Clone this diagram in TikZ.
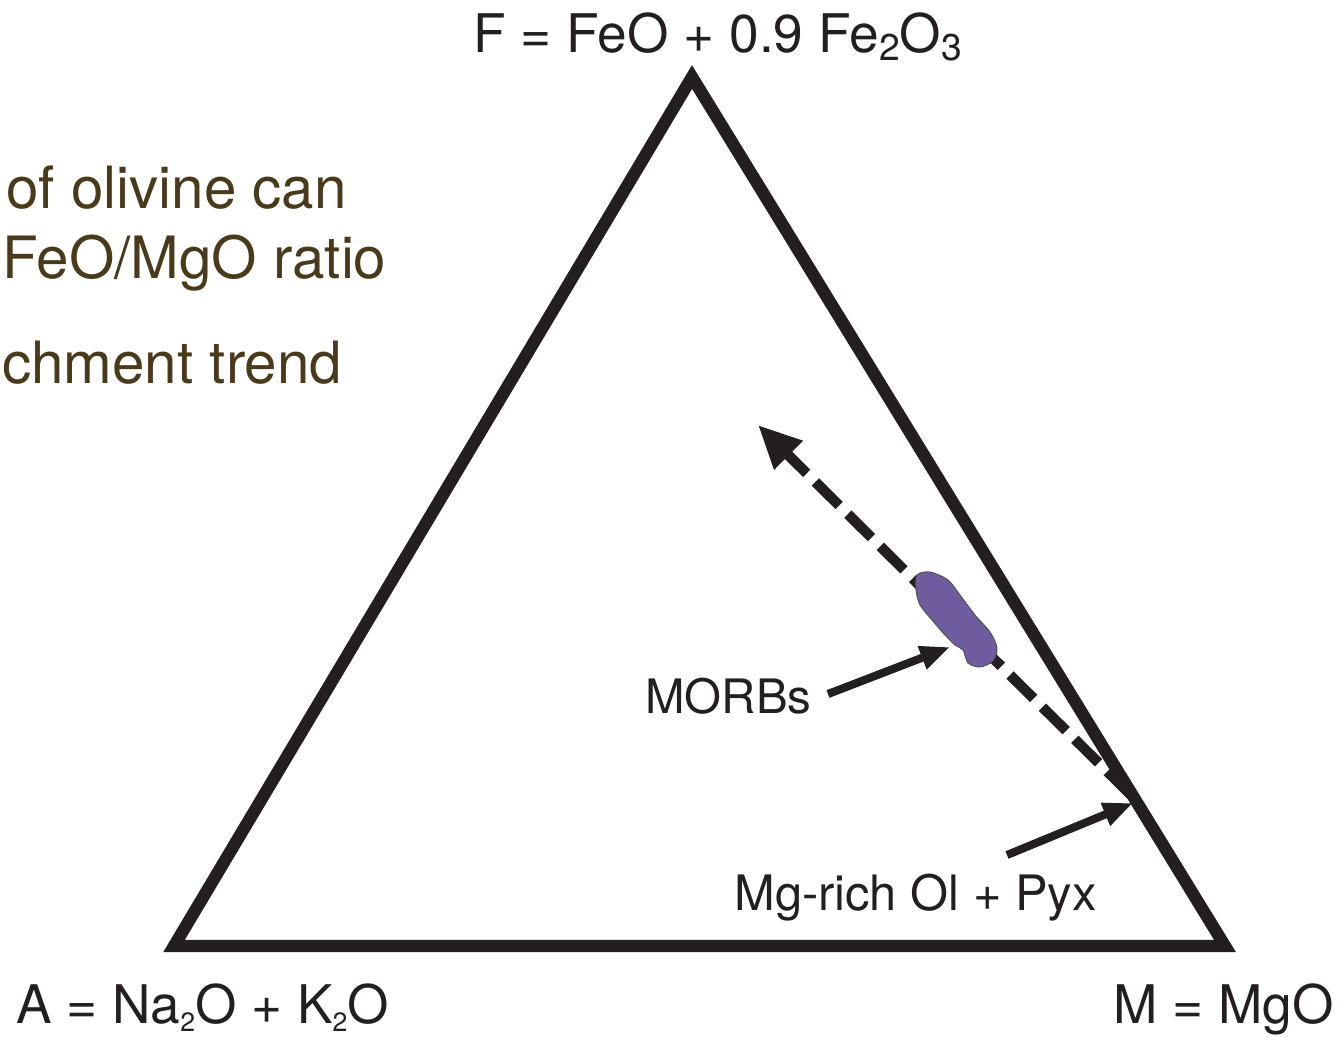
\documentclass[tikz,border=0pt]{standalone}
\usepackage{fontspec}
\setmainfont{TeX Gyre Heros}
\usetikzlibrary{arrows.meta}
\definecolor{afmink}{HTML}{231F20}
\definecolor{afmbrown}{HTML}{4A3A1C}
\definecolor{afmmorb}{HTML}{6F5C9E}
\newcommand{\sbs}[2][0.7]{\raisebox{-0.16em}{\scalebox{#1}{#2}}}
\tikzset{
  lbl/.style={inner sep=0pt, anchor=base west, text=afmink},
  big/.style={lbl, font=\fontsize{30.3pt}{36pt}\selectfont},
  note/.style={inner sep=0pt, anchor=base west, text=afmbrown, font=\fontsize{33.2pt}{39pt}\selectfont},
  tri/.style={line width=7pt, draw=afmink, line join=miter},
  trend/.style={line width=5.9pt, color=afmink, dash pattern=on 19pt off 7pt, -{Triangle[length=24.5pt, width=21.6pt]}},
  ptr/.style={line width=4.6pt, color=afmink, -{Triangle[length=17pt, width=13pt]}},
  blob/.style={fill=afmmorb, draw=afmink!80, line width=0.5pt},
}
\begin{document}
\begin{tikzpicture}[x=0.02cm, y=-0.02cm]
  \useasboundingbox (0,0) rectangle (1342,1036);
  \coordinate (F) at (692,77);
  \coordinate (A) at (174,946);
  \coordinate (M) at (1225,946);
  \draw[tri] (F) -- (A) -- (M) -- cycle;
  \node[big] (flabel) at (473,52) {F = FeO + 0.9 Fe\sbs{2}O\sbs{3}};
  \node[big] (alabel) at (16,1023) {A = Na\sbs[0.5]{2}O + K\sbs[0.5]{2}O};
  \node[big] (mlabel) at (1113,1023) {M = MgO};
  \node[note] (note1) at (6,208) {of olivine can};
  \node[note] (note2) at (2,278) {FeO/MgO ratio};
  \node[note] (note3) at (2,383) {chment trend};
  \coordinate (trendstart) at (1131,795);
  \coordinate (trendtip) at (758,425);
  \draw[trend] (trendstart) -- (trendtip);
  \draw[blob] plot[smooth cycle] coordinates {(917,575) (930,572) (948,580) (960,595) (975,615) (990,632) (997,648) (993,661) (980,667) (968,663) (963,650) (955,645) (945,635) (932,620) (920,605) (916,590)};
  \node[lbl, font=\fontsize{27pt}{32pt}\selectfont] (morbs) at (645,713) {MORBs};
  \node[lbl, font=\fontsize{27.8pt}{33pt}\selectfont] (olpyx) at (734,910) {Mg-rich Ol + Pyx};
  \coordinate (morbtail) at (828,694);
  \coordinate (morbtip) at (950,647);
  \draw[ptr] (morbtail) -- (morbtip);
  \coordinate (olpyxtail) at (1007,855);
  \coordinate (olpyxtip) at (1133,803);
  \draw[ptr] (olpyxtail) -- (olpyxtip);
\end{tikzpicture}
\end{document}
